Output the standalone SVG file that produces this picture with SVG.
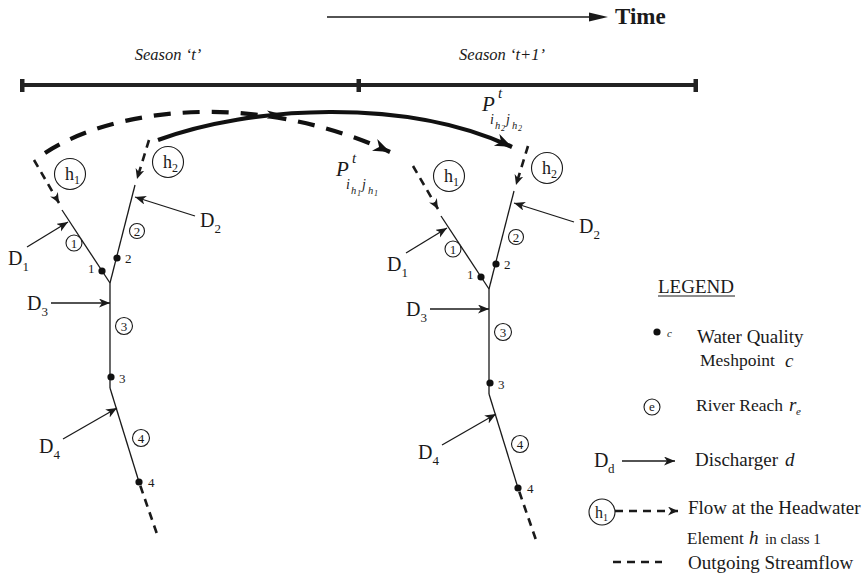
<svg xmlns="http://www.w3.org/2000/svg" width="865" height="574" viewBox="0 0 865 574">
<style>
text{font-family:"Liberation Serif","Times New Roman",serif;fill:#1a1a1a}
.it{font-style:italic}
.ln{stroke:#1a1a1a;stroke-width:1.3;fill:none}
.cir{stroke:#1a1a1a;stroke-width:1.1;fill:#fff}
.dot{fill:#111}
.hd{stroke:#1a1a1a;stroke-width:2.6;fill:none;stroke-dasharray:8 6}
.num{font-size:13px}
.cn{font-size:13px;text-anchor:middle}
.D{font-size:20px}
.Ds{font-size:13px}
.hh{font-size:18px}
.hs{font-size:12px}
.lg{font-size:19px}
.lm{font-size:17.5px}
.big{stroke:#111;stroke-width:4.2;fill:none}
</style>
<defs>
<marker id="a" markerUnits="userSpaceOnUse" markerWidth="12" markerHeight="10" refX="11" refY="4.5" orient="auto"><path d="M0,0 L11,4.5 L0,9 L3,4.5 z" fill="#1a1a1a"/></marker>
<marker id="ad" markerUnits="userSpaceOnUse" markerWidth="12" markerHeight="10" refX="10" refY="4.5" orient="auto"><path d="M0,0 L10,4.5 L0,9 L3,4.5 z" fill="#1a1a1a"/></marker>
<marker id="ab" markerUnits="userSpaceOnUse" markerWidth="20" markerHeight="14" refX="17" refY="6.5" orient="auto"><path d="M0,0 L17,6.5 L0,13 L5,6.5 z" fill="#111"/></marker>
</defs>

<g id="time-axis">
<line x1="327" y1="17" x2="592" y2="17" stroke="#1a1a1a" stroke-width="1.6"/>
<polygon points="589,12.5 608,17 589,21.5" fill="#1a1a1a"/>
<text x="615" y="24" font-size="23" font-weight="bold">Time</text>
</g>

<g id="timeline">
<line x1="22" y1="85" x2="696" y2="85" stroke="#222" stroke-width="4"/>
<rect x="20" y="79" width="4.5" height="13" fill="#222"/>
<rect x="356.5" y="79" width="4.5" height="13" fill="#222"/>
<rect x="693.5" y="79" width="4.5" height="13" fill="#222"/>
<text class="it" x="168" y="60" font-size="16.5" text-anchor="middle">Season ‘t’</text>
<text class="it" x="502" y="60" font-size="16.5" text-anchor="middle">Season ‘t+1’</text>
</g>

<g id="transfer-connectors">
<path class="big" d="M45,153 C110,110 250,88 390,152" stroke-dasharray="17 12" marker-end="url(#ab)"/>
<path class="big" d="M158,140 C250,106 405,97 512,147" marker-end="url(#ab)"/>
<path d="M267,110.5 L283,114.5 L267,119 L271,114.5 z" fill="#111"/>
</g>

<g id="label-P1">
<text class="it"><tspan x="336" y="176" font-size="21">P</tspan><tspan x="352" y="163" font-size="15">t</tspan><tspan x="346" y="189" font-size="14">i</tspan><tspan x="351" y="194" font-size="10.5">h</tspan><tspan x="357" y="196" font-size="8">1</tspan><tspan x="362" y="189" font-size="14">j</tspan><tspan x="368" y="194" font-size="10.5">h</tspan><tspan x="374" y="196" font-size="8">1</tspan></text>
</g>
<g id="label-P2">
<text class="it"><tspan x="482" y="111" font-size="21">P</tspan><tspan x="498" y="98" font-size="15">t</tspan><tspan x="490" y="124" font-size="14">i</tspan><tspan x="495" y="129" font-size="10.5">h</tspan><tspan x="501" y="131" font-size="8">2</tspan><tspan x="506" y="124" font-size="14">j</tspan><tspan x="512" y="129" font-size="10.5">h</tspan><tspan x="518" y="131" font-size="8">2</tspan></text>
</g>

<g id="tree-season-t">
<g id="connectors-t">
<path class="hd" d="M34,160 L59,203" marker-end="url(#ad)"/>
<path class="hd" d="M149,140 L137,179" marker-end="url(#ad)"/>
<line class="ln" x1="62" y1="210" x2="110" y2="283"/>
<line class="ln" x1="135" y1="185" x2="110" y2="283"/>
<line class="ln" x1="110" y1="283" x2="110" y2="388"/>
<line class="ln" x1="110" y1="388" x2="139" y2="482"/>
<path class="hd" d="M139,482 L157,534" stroke-dasharray="10 8" stroke-dashoffset="-4"/>
<line class="ln" x1="27" y1="247" x2="68" y2="222" marker-end="url(#a)"/>
<line class="ln" x1="195" y1="216" x2="135" y2="197" marker-end="url(#a)"/>
<line class="ln" x1="51" y1="303" x2="110" y2="303" marker-end="url(#a)"/>
<line class="ln" x1="63" y1="439" x2="117" y2="408" marker-end="url(#a)"/>
</g>
<g id="h1-t"><circle class="cir" cx="70" cy="174" r="15.5"/><text class="hh" x="65" y="180">h</text><text class="hs" x="74" y="184">1</text></g>
<g id="h2-t"><circle class="cir" cx="168" cy="162" r="15.5"/><text class="hh" x="163" y="168">h</text><text class="hs" x="172" y="172">2</text></g>
<g id="reach1-t"><circle class="cir" cx="74" cy="243" r="8"/><text class="cn" x="74" y="247.5">1</text></g>
<g id="reach2-t"><circle class="cir" cx="137" cy="231" r="7.5"/><text class="cn" x="137" y="235.5">2</text></g>
<g id="reach3-t"><circle class="cir" cx="124" cy="326" r="8.5"/><text class="cn" x="124" y="330.5">3</text></g>
<g id="reach4-t"><circle class="cir" cx="141" cy="438" r="8.5"/><text class="cn" x="141" y="442.5">4</text></g>
<g id="mesh1-t"><circle class="dot" cx="102" cy="271" r="3.6"/><text class="num" x="88" y="273">1</text></g>
<g id="mesh2-t"><circle class="dot" cx="117" cy="258" r="3.6"/><text class="num" x="125" y="263">2</text></g>
<g id="mesh3-t"><circle class="dot" cx="111" cy="377" r="3.6"/><text class="num" x="119" y="383">3</text></g>
<g id="mesh4-t"><circle class="dot" cx="139" cy="482" r="3.6"/><text class="num" x="148" y="487">4</text></g>
<g id="D1-t"><text class="D" x="8" y="265">D</text><text class="Ds" x="22.5" y="271">1</text></g>
<g id="D2-t"><text class="D" x="200" y="227">D</text><text class="Ds" x="214.5" y="233">2</text></g>
<g id="D3-t"><text class="D" x="27" y="310">D</text><text class="Ds" x="41.5" y="316">3</text></g>
<g id="D4-t"><text class="D" x="39" y="453">D</text><text class="Ds" x="53.5" y="459">4</text></g>
</g>

<g id="tree-season-t1" transform="translate(379,6)">
<g id="connectors-t1">
<path class="hd" d="M34,160 L59,203" marker-end="url(#ad)"/>
<path class="hd" d="M149,140 L137,179" marker-end="url(#ad)"/>
<line class="ln" x1="62" y1="210" x2="110" y2="283"/>
<line class="ln" x1="135" y1="185" x2="110" y2="283"/>
<line class="ln" x1="110" y1="283" x2="110" y2="388"/>
<line class="ln" x1="110" y1="388" x2="139" y2="482"/>
<path class="hd" d="M139,482 L157,534" stroke-dasharray="10 8" stroke-dashoffset="-4"/>
<line class="ln" x1="27" y1="247" x2="68" y2="222" marker-end="url(#a)"/>
<line class="ln" x1="195" y1="216" x2="135" y2="197" marker-end="url(#a)"/>
<line class="ln" x1="51" y1="303" x2="110" y2="303" marker-end="url(#a)"/>
<line class="ln" x1="63" y1="439" x2="117" y2="408" marker-end="url(#a)"/>
</g>
<g id="h1-t1"><circle class="cir" cx="70" cy="170" r="15.5"/><text class="hh" x="65" y="176">h</text><text class="hs" x="74" y="180">1</text></g>
<g id="h2-t1"><circle class="cir" cx="168" cy="162" r="15.5"/><text class="hh" x="163" y="168">h</text><text class="hs" x="172" y="172">2</text></g>
<g id="reach1-t1"><circle class="cir" cx="74" cy="243" r="8"/><text class="cn" x="74" y="247.5">1</text></g>
<g id="reach2-t1"><circle class="cir" cx="137" cy="231" r="7.5"/><text class="cn" x="137" y="235.5">2</text></g>
<g id="reach3-t1"><circle class="cir" cx="124" cy="326" r="8.5"/><text class="cn" x="124" y="330.5">3</text></g>
<g id="reach4-t1"><circle class="cir" cx="141" cy="438" r="8.5"/><text class="cn" x="141" y="442.5">4</text></g>
<g id="mesh1-t1"><circle class="dot" cx="102" cy="271" r="3.6"/><text class="num" x="88" y="273">1</text></g>
<g id="mesh2-t1"><circle class="dot" cx="117" cy="258" r="3.6"/><text class="num" x="125" y="263">2</text></g>
<g id="mesh3-t1"><circle class="dot" cx="111" cy="377" r="3.6"/><text class="num" x="119" y="383">3</text></g>
<g id="mesh4-t1"><circle class="dot" cx="139" cy="482" r="3.6"/><text class="num" x="148" y="487">4</text></g>
<g id="D1-t1"><text class="D" x="8" y="265">D</text><text class="Ds" x="22.5" y="271">1</text></g>
<g id="D2-t1"><text class="D" x="200" y="227">D</text><text class="Ds" x="214.5" y="233">2</text></g>
<g id="D3-t1"><text class="D" x="27" y="310">D</text><text class="Ds" x="41.5" y="316">3</text></g>
<g id="D4-t1"><text class="D" x="39" y="453">D</text><text class="Ds" x="53.5" y="459">4</text></g>
</g>

<g id="legend">
<text class="lg" x="658" y="293">LEGEND</text>
<line x1="658" y1="296" x2="735" y2="296" stroke="#1a1a1a" stroke-width="1"/>
<g id="legend-mesh"><circle class="dot" cx="657" cy="332" r="3.6"/><text class="it" x="667" y="337" font-size="11">c</text>
<text class="lg" x="697" y="343">Water Quality</text>
<text class="lm" x="700" y="366">Meshpoint</text><text class="it" x="785" y="367" font-size="19">c</text></g>
<g id="legend-reach"><circle class="cir" cx="652" cy="407" r="8"/><text class="cn" x="652" y="411">e</text>
<text class="lm" x="696" y="411">River Reach</text><text class="it" x="789" y="411" font-size="19">r</text><text class="it" x="796" y="415" font-size="11">e</text></g>
<g id="legend-discharger"><text class="D" x="594" y="467">D</text><text class="Ds" x="608" y="473">d</text>
<line class="ln" x1="622" y1="461" x2="675" y2="461" marker-end="url(#a)"/>
<text class="lg" x="695" y="466">Discharger</text><text class="it" x="785" y="466" font-size="19">d</text></g>
<g id="legend-headwater"><circle class="cir" cx="602" cy="512" r="13"/><text x="595" y="518" font-size="16">h</text><text x="603" y="521" font-size="10">1</text>
<line class="hd" x1="615" y1="511" x2="678" y2="511" stroke-dasharray="9 7" marker-end="url(#ad)"/>
<text class="lg" x="688" y="514">Flow at the Headwater</text>
<text x="687" y="544" font-size="17">Element</text><text class="it" x="749" y="544" font-size="19">h</text><text x="765" y="544" font-size="15">in class 1</text></g>
<g id="legend-outgoing"><line class="hd" x1="613" y1="562" x2="662" y2="562" stroke-dasharray="10 9"/>
<text class="lg" x="688" y="569">Outgoing Streamflow</text></g>
</g>
</svg>
